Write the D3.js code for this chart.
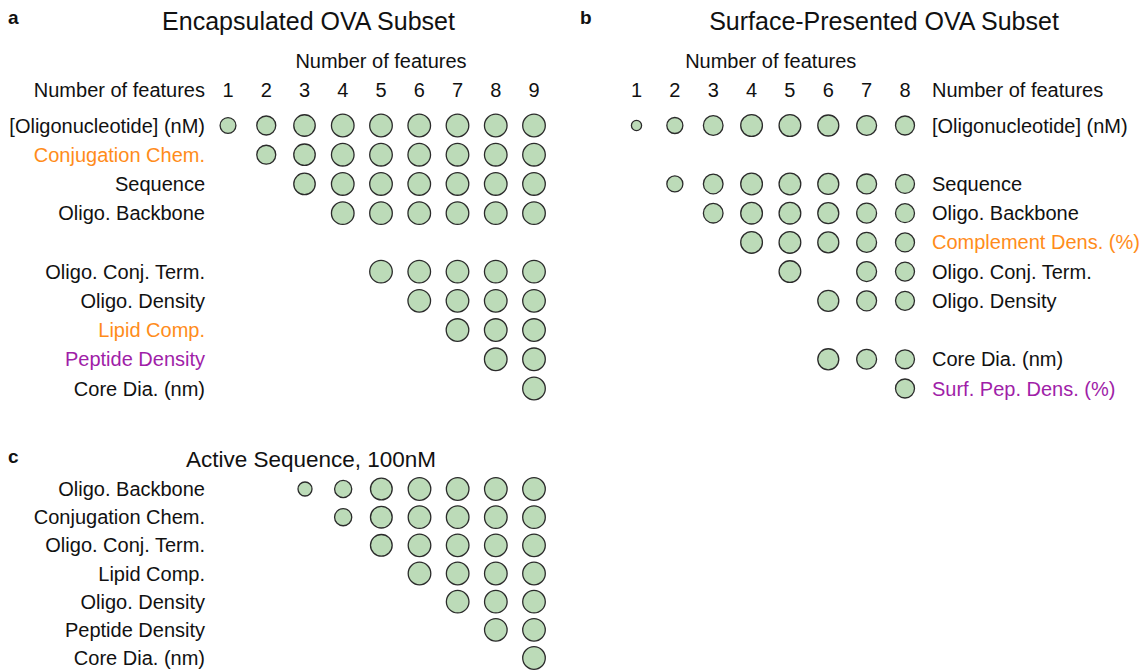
<!DOCTYPE html>
<html>
<head>
<meta charset="utf-8">
<script src="https://cdn.jsdelivr.net/npm/d3@7"></script>
<style>
  body { margin: 0; background: #fff; }
  svg text { font-family: "Liberation Sans", Arial, sans-serif; fill: #111; }
</style>
</head>
<body>
<div id="chart"></div>
<script>
// Panel a: Encapsulated OVA subset (null = blank row)
let rowsA = ["[Oligonucleotide] (nM)", "Conjugation Chem.", "Sequence", "Oligo. Backbone", null,
    "Oligo. Conj. Term.", "Oligo. Density", "Lipid Comp.", "Peptide Density", "Core Dia. (nm)"];
let groupA = ["k", "o", "k", "k", null, "k", "k", "o", "p", "k"];
let colsA = [1, 2, 3, 4, 5, 6, 7, 8, 9];
let memberA = [[1, 2, 3, 4, 5, 6, 7, 8, 9], [2, 3, 4, 5, 6, 7, 8, 9], [3, 4, 5, 6, 7, 8, 9], [4, 5, 6, 7, 8, 9], [],
    [5, 6, 7, 8, 9], [6, 7, 8, 9], [7, 8, 9], [8, 9], [9]];
let scoreA = [0.70, 0.84, 0.95, 1.0, 1.0, 1.0, 1.0, 1.0, 1.0];

// Panel b: Surface-presented OVA subset
let rowsB = ["[Oligonucleotide] (nM)", null, "Sequence", "Oligo. Backbone", "Complement Dens. (%)",
    "Oligo. Conj. Term.", "Oligo. Density", null, "Core Dia. (nm)", "Surf. Pep. Dens. (%)"];
let groupB = ["k", null, "k", "k", "o", "k", "k", null, "k", "p"];
let colsB = [1, 2, 3, 4, 5, 6, 7, 8];
let memberB = [[1, 2, 3, 4, 5, 6, 7, 8], [], [2, 3, 4, 5, 6, 7, 8], [3, 4, 5, 6, 7, 8], [4, 5, 6, 7, 8],
    [5, 7, 8], [6, 7, 8], [], [6, 7, 8], [8]];
let scoreB = [0.45, 0.71, 0.87, 0.96, 0.96, 0.93, 0.88, 0.84];

// Panel c: Active sequence, 100nM
let rowsC = ["Oligo. Backbone", "Conjugation Chem.", "Oligo. Conj. Term.", "Lipid Comp.",
    "Oligo. Density", "Peptide Density", "Core Dia. (nm)"];
let groupC = ["k", "k", "k", "k", "k", "k", "k"];
let colsC = [1, 2, 3, 4, 5, 6, 7];
let memberC = [[1, 2, 3, 4, 5, 6, 7], [2, 3, 4, 5, 6, 7], [3, 4, 5, 6, 7], [4, 5, 6, 7], [5, 6, 7], [6, 7], [7]];
let scoreC = [0.62, 0.76, 0.96, 1.0, 1.0, 1.0, 1.0];

let labelColor = { k: "#111", o: "#ff8c1a", p: "#a01ea8" };

let svg = d3.select("#chart").append("svg")
    .attr("width", 1140)
    .attr("height", 670);

let rScale = d3.scaleLinear().domain([0, 1]).range([0, 11.3]);

// draw one dot-matrix panel
function drawPanel(opt) {
    let g = svg.append("g");

    let x = d3.scalePoint().domain(opt.cols).range(opt.xRange);
    let y = d3.scalePoint().domain(d3.range(opt.rows.length)).range(opt.yRange);

    // panel letter and title
    g.append("text")
        .attr("x", opt.letter[1]).attr("y", opt.letter[2])
        .attr("font-size", "19px").attr("font-weight", "bold")
        .text(opt.letter[0]);
    g.append("text")
        .attr("x", opt.title[1]).attr("y", opt.title[2])
        .attr("text-anchor", "middle").attr("font-size", opt.title[3])
        .text(opt.title[0]);

    // column header
    if (opt.header) {
        g.append("text")
            .attr("x", d3.mean(x.range())).attr("y", opt.header.topY)
            .attr("text-anchor", "middle").attr("font-size", "20px").attr("dy", "0.35em")
            .text("Number of features");
        g.append("text")
            .attr("x", opt.labelX).attr("y", opt.header.y)
            .attr("text-anchor", opt.anchor).attr("font-size", "20px").attr("dy", "0.35em")
            .text("Number of features");
        g.selectAll(".colnum")
            .data(opt.cols)
            .enter().append("text")
            .attr("x", d => x(d)).attr("y", opt.header.y)
            .attr("text-anchor", "middle").attr("font-size", "20px").attr("dy", "0.35em")
            .text(d => d);
    }

    // row labels
    let rowData = opt.rows.map((r, i) => ({ label: r, i: i, grp: opt.groups[i], member: opt.member[i] }))
        .filter(d => d.label);
    g.selectAll(".rowlab")
        .data(rowData)
        .enter().append("text")
        .attr("x", opt.labelX).attr("y", d => y(d.i))
        .attr("text-anchor", opt.anchor).attr("font-size", "20px").attr("dy", "0.35em")
        .style("fill", d => labelColor[d.grp])
        .text(d => d.label);

    // dots
    let dots = [];
    rowData.forEach(d => d.member.forEach(c => dots.push({ i: d.i, c: c, s: opt.score[c - 1] })));
    g.selectAll("circle")
        .data(dots)
        .enter().append("circle")
        .attr("cx", d => x(d.c))
        .attr("cy", d => y(d.i))
        .attr("r", d => rScale(d.s))
        .style("fill", "#bcdbb8")
        .attr("stroke", "#2b2b2b")
        .attr("stroke-width", 1.3);
}

drawPanel({
    rows: rowsA, groups: groupA, cols: colsA, member: memberA, score: scoreA,
    xRange: [228, 534], yRange: [125.5, 388.5], labelX: 205, anchor: "end",
    letter: ["a", 8, 24], title: ["Encapsulated OVA Subset", 308.5, 30, "25px"],
    header: { y: 90, topY: 61 }
});

drawPanel({
    rows: rowsB, groups: groupB, cols: colsB, member: memberB, score: scoreB,
    xRange: [636.5, 905], yRange: [125.5, 388.5], labelX: 932, anchor: "start",
    letter: ["b", 580, 24], title: ["Surface-Presented OVA Subset", 884, 30, "25px"],
    header: { y: 90, topY: 61 }
});

drawPanel({
    rows: rowsC, groups: groupC, cols: colsC, member: memberC, score: scoreC,
    xRange: [305, 534], yRange: [489, 658], labelX: 205, anchor: "end",
    letter: ["c", 8, 463], title: ["Active Sequence, 100nM", 311, 467, "22.5px"],
    header: null
});
</script>
</body>
</html>
